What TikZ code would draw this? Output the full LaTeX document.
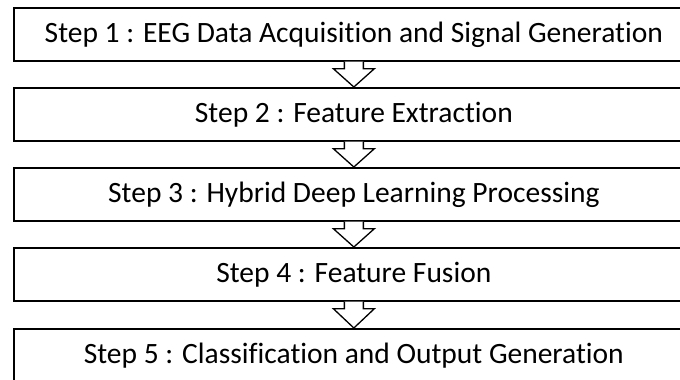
\documentclass[tikz,border=0pt]{standalone}
\usepackage{fontspec}
\setmainfont{Carlito}[Ligatures=NoCommon]
\usetikzlibrary{calc}
\tikzset{
  stepbox/.style={draw=black, line width=1.7pt, fill=white, minimum width=680pt, minimum height=53pt, inner sep=0pt, font=\fontsize{29.5}{34}\selectfont, anchor=north west},
  blockarrow/.style={draw=black, line width=1.3pt, fill=white, line join=miter}
}
\begin{document}
\begin{tikzpicture}[x=1pt,y=-1pt]
\useasboundingbox (0,0) rectangle (680,380);
\node[stepbox] (b1) at (13,7) {Step 1 : EEG Data Acquisition and Signal Generation};
\node[stepbox] (b2) at (13,87) {Step 2 : Feature Extraction};
\node[stepbox] (b3) at (13,167) {Step 3 : Hybrid Deep Learning Processing};
\node[stepbox] (b4) at (13,247) {Step 4 : Feature Fusion};
\node[stepbox] (b5) at (13,328) {Step 5 : Classification and Output Generation};
\foreach \a/\b in {b1/b2,b2/b3,b3/b4,b4/b5}{
  \draw[blockarrow] ($(\a.south)+(-9.5,0)$) -- ++(0,7) -- ++(-11,0) -- (\b.north) -- ($(\a.south)+(20.5,7)$) -- ++(-11,0) -- ++(0,-7);
}
\end{tikzpicture}
\end{document}
